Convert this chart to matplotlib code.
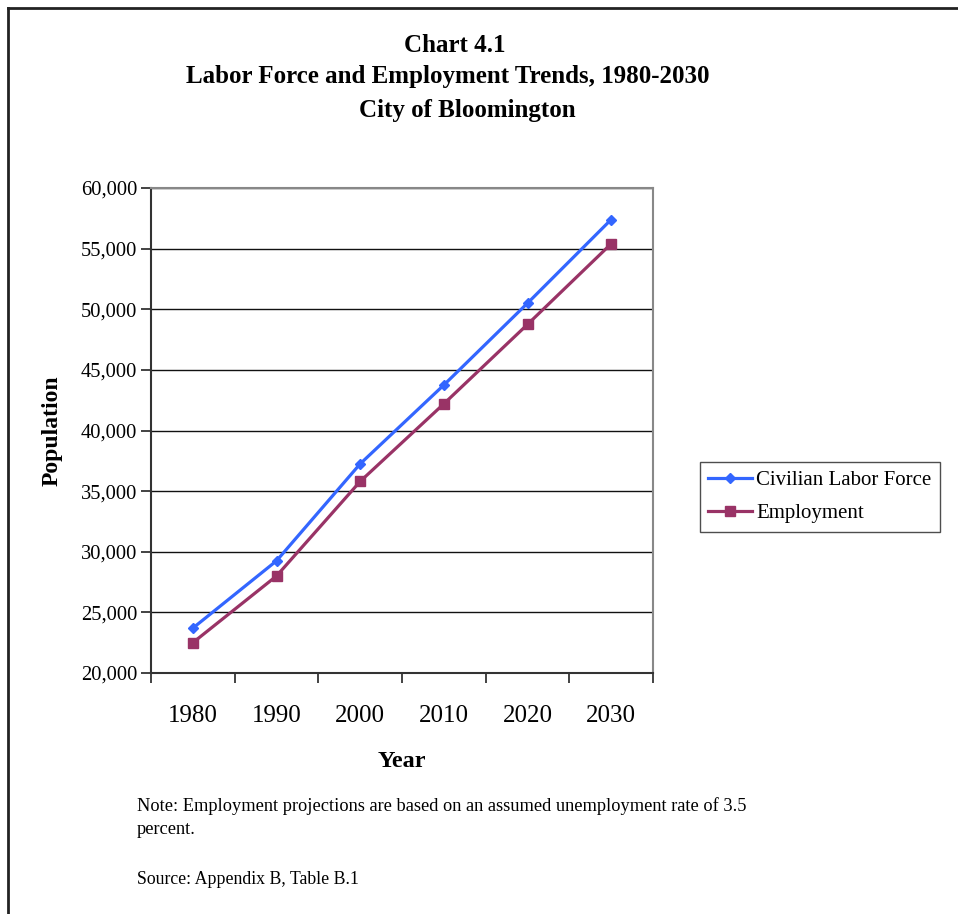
import matplotlib
matplotlib.use("Agg")
import matplotlib.pyplot as plt
from matplotlib.ticker import FuncFormatter, FixedLocator
from matplotlib.lines import Line2D

years = ["1980", "1990", "2000", "2010", "2020", "2030"]
labor_force = [23700, 29250, 37250, 43750, 50500, 57400]
employment = [22500, 28000, 35800, 42200, 48750, 55400]

plt.rcParams["font.family"] = ["Liberation Serif", "DejaVu Serif"]

BLUE = "#3366FF"
MAROON = "#993366"

fig = plt.figure(figsize=(9.58, 9.14), dpi=100)
W, H = 958, 914

# page frame (left and top edges)
fig.add_artist(Line2D([8 / W, 8 / W], [0, 1 - 8 / H], color="#222222", lw=2))
fig.add_artist(Line2D([8 / W, 1], [1 - 8 / H, 1 - 8 / H], color="#222222", lw=2))

ax = fig.add_axes([151 / W, 1 - 673 / H, 502 / W, 485 / H])
x = list(range(len(years)))

ax.plot(x, labor_force, color=BLUE, lw=2.3, marker="D", markersize=5.5,
        label="Civilian Labor Force", zorder=3)
ax.plot(x, employment, color=MAROON, lw=2.3, marker="s", markersize=7.5,
        label="Employment", zorder=3)

ax.set_xlim(-0.5, len(years) - 0.5)
ax.set_ylim(20000, 60000)
ax.set_yticks(range(20000, 60001, 5000))
ax.yaxis.set_major_formatter(FuncFormatter(lambda v, p: f"{int(v):,}"))
ax.yaxis.grid(True, color="#111111", lw=1.0)
ax.set_axisbelow(True)

ax.set_xticks(x)
ax.set_xticklabels(years)
ax.xaxis.set_minor_locator(FixedLocator([i - 0.5 for i in range(len(years) + 1)]))
ax.tick_params(axis="x", which="major", length=0, pad=23, labelsize=18)
ax.tick_params(axis="x", which="minor", length=7, width=1.2, direction="out", color="#222222")
ax.tick_params(axis="y", length=7, width=1.2, direction="out", labelsize=14.8, pad=3,
               color="#222222")

for s in ("left", "bottom"):
    ax.spines[s].set_color("#333333")
    ax.spines[s].set_linewidth(1.5)
for s in ("top", "right"):
    ax.spines[s].set_color("#888888")
    ax.spines[s].set_linewidth(1.5)

ax.set_ylabel("Population", fontsize=17, fontweight="bold", labelpad=13)
ax.set_xlabel("Year", fontsize=17.5, fontweight="bold", labelpad=17)

fig.text(455 / W, 1 - 45 / H, "Chart 4.1", ha="center", va="center",
         fontsize=18, fontweight="bold")
fig.text(448 / W, 1 - 77 / H, "Labor Force and Employment Trends, 1980-2030",
         ha="center", va="center", fontsize=18, fontweight="bold")
fig.text(467 / W, 1 - 110 / H, "City of Bloomington", ha="center", va="center",
         fontsize=18, fontweight="bold")

leg = fig.legend(loc="center left", bbox_to_anchor=(700 / W, 1 - 497 / H),
                 fontsize=15, frameon=True, fancybox=False, edgecolor="#222222",
                 handlelength=2.1, handletextpad=0.2, borderpad=0.4,
                 labelspacing=0.65, borderaxespad=0)
leg.get_frame().set_linewidth(1.0)

fig.text(137 / W, 1 - 806 / H,
         "Note: Employment projections are based on an assumed unemployment rate of 3.5",
         fontsize=13.2, va="center", ha="left")
fig.text(137 / W, 1 - 830 / H, "percent.", fontsize=13.2, va="center", ha="left")
fig.text(137 / W, 1 - 880 / H, "Source: Appendix B, Table B.1", fontsize=12.8,
         va="center", ha="left")

fig.savefig("out.png", dpi=100)
